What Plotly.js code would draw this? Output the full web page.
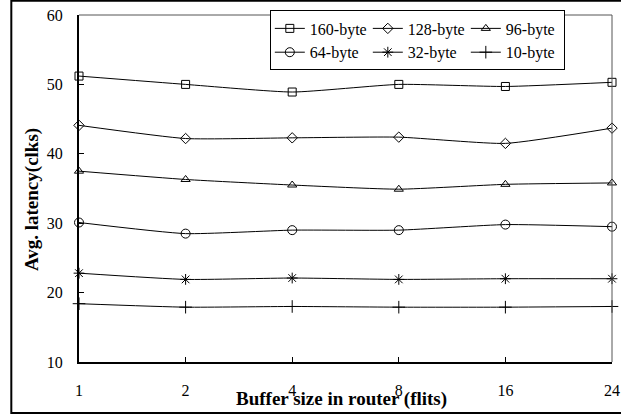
<!DOCTYPE html>
<html><head><meta charset="utf-8">
<script src="https://cdn.plot.ly/plotly-3.0.1.min.js"></script>
<style>html,body{margin:0;padding:0;background:#fff}#chart{width:621px;height:416px}</style>
</head><body><div id="chart"></div>
<script>
const categories = ["1","2","4","8","16","24"];
const seriesNames = ["160-byte","128-byte","96-byte","64-byte","32-byte","10-byte"];
const s160 = [51.2, 50.0, 48.9, 50.0, 49.7, 50.3];
const s128 = [44.1, 42.2, 42.3, 42.4, 41.5, 43.7];
const s96  = [37.5, 36.3, 35.5, 34.9, 35.6, 35.8];
const s64  = [30.1, 28.5, 29.0, 29.0, 29.8, 29.5];
const s32  = [22.8, 21.9, 22.1, 21.9, 22.0, 22.0];
const s10  = [18.4, 17.9, 18.0, 17.9, 17.9, 18.0];
const yTicks = [10, 20, 30, 40, 50, 60];
const xTitle = "Buffer size in router (flits)";
const yTitle = "Avg. latency(clks)";

const seriesValues = [s160, s128, s96, s64, s32, s10];
const symbols = ["square-open","diamond-open","triangle-up-open","circle-open","asterisk-open","cross-thin-open"];
const sizes = [8, 8, 8, 9, 9, 9];
const legendColumns = ["c1","c2","c3","c1","c2","c3"];

const font = "Liberation Serif, Times New Roman, serif";
const traces = seriesValues.map((vals, i) => ({
  x: categories, y: vals, name: seriesNames[i], type: "scatter", mode: "lines+markers",
  legendgroup: legendColumns[i],
  line: {color: "#000", width: 1, shape: "spline", smoothing: 0.5},
  marker: {symbol: symbols[i], size: sizes[i], color: "#000", line: {color: "#000", width: 1}},
  cliponaxis: false
}));

const layout = {
  width: 621, height: 416,
  margin: {l: 79, r: 9, t: 15, b: 54, autoexpand: false},
  paper_bgcolor: "#fff", plot_bgcolor: "#fff",
  font: {family: font, size: 16, color: "#000"},
  showlegend: true,
  legend: {
    orientation: "h", traceorder: "grouped", x: 0.358, y: 1.013, xanchor: "left", yanchor: "top",
    bgcolor: "#fff", bordercolor: "#000", borderwidth: 1,
    entrywidth: 53, entrywidthmode: "pixels",
    font: {family: font, size: 16, color: "#000"},
    tracegroupgap: 0, itemwidth: 30
  },
  xaxis: {
    type: "category", range: [0, 5],
    showgrid: false, zeroline: false,
    showline: true, linecolor: "#000", linewidth: 2, mirror: false,
    ticks: "inside", ticklen: 5, tickcolor: "#000", tickwidth: 1,
    ticklabelstandoff: 13,
    tickfont: {family: font, size: 16, color: "#000"},
    automargin: false
  },
  yaxis: {
    range: [10, 60], tickvals: yTicks,
    showgrid: false, zeroline: false,
    showline: true, linecolor: "#000", linewidth: 2,
    ticks: "inside", ticklen: 5, tickcolor: "#000", tickwidth: 1,
    ticklabelstandoff: 11,
    tickfont: {family: font, size: 16, color: "#000"},
    automargin: false
  },
  annotations: [
    {text: xTitle, xref: "paper", yref: "paper", x: 0.4916, y: -0.107, xanchor: "center", yanchor: "middle",
     showarrow: false, font: {family: font, size: 19, color: "#000", weight: "bold"}},
    {text: yTitle, xref: "paper", yref: "paper", x: -0.088, y: 0.467, xanchor: "center", yanchor: "middle",
     textangle: -90, showarrow: false, font: {family: font, size: 19, color: "#000", weight: "bold"}}
  ],
  shapes: [
    {type: "line", xref: "paper", yref: "paper", x0: 0, x1: 1, y0: 1, y1: 1, line: {color: "#555", width: 1}},
    {type: "line", xref: "paper", yref: "paper", x0: 1, x1: 1, y0: 0, y1: 1, line: {color: "#555", width: 1}},
    {type: "rect", xref: "paper", yref: "paper", x0: -0.127, x1: 1.03, y0: -0.147, y1: 1.041, line: {color: "#000", width: 2}, layer: "below"}
  ]
};

Plotly.newPlot("chart", traces, layout, {displayModeBar: false, staticPlot: true});
</script></body></html>
